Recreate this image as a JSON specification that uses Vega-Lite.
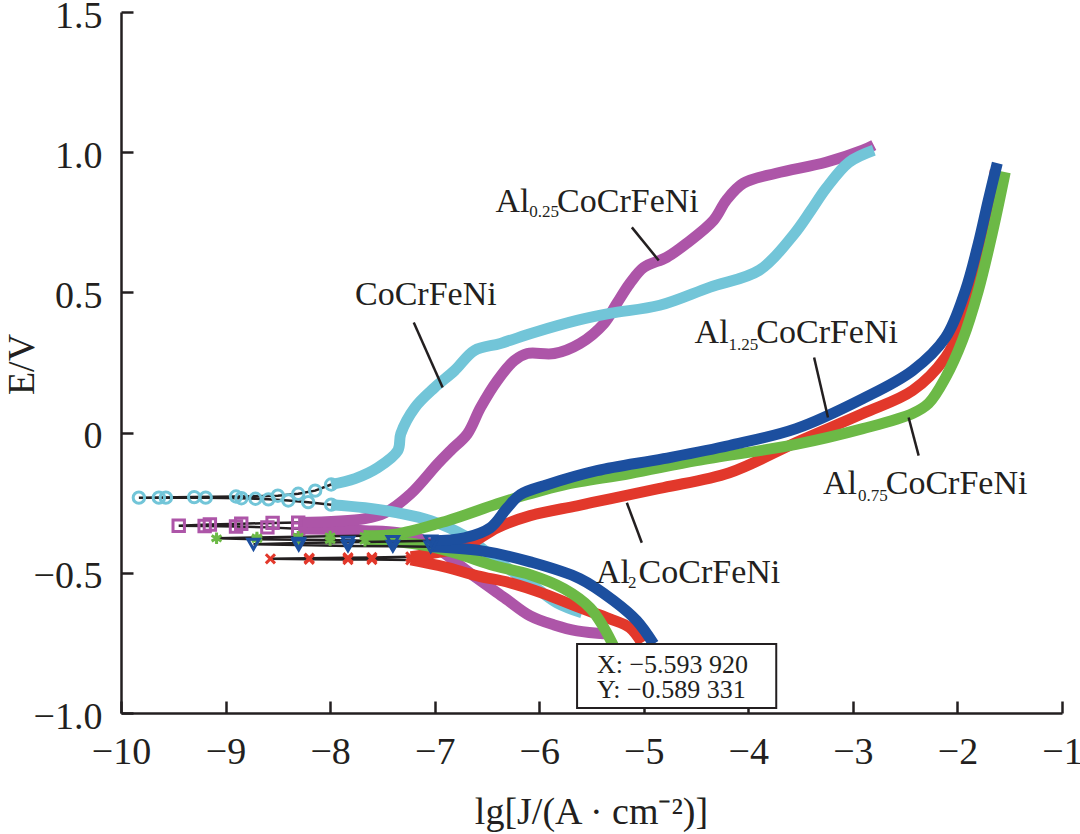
{
"$schema": "https://vega.github.io/schema/vega-lite/v6.json",
"width": 941, "height": 701,
"autosize": {"type": "none"},
"padding": {"left": 121, "top": 12, "right": 18, "bottom": 121},
"background": "white",
"config": {
 "view": {"stroke": null},
 "font": "Liberation Serif",
 "axis": {"domainColor": "#231f20", "domainWidth": 2.5, "tickColor": "#231f20", "tickWidth": 2.5, "tickSize": -12, "labelColor": "#231f20", "titleColor": "#231f20", "labelFont": "Liberation Serif", "titleFont": "Liberation Serif", "labelFontSize": 38, "titleFontSize": 38, "titleFontWeight": "normal", "grid": false, "zindex": 1, "labelFlush": false, "labelOverlap": false}
},
"datasets": {
 "curves": [
  {"s":"Al0.25CoCrFeNi","p":"c","i":1,"x":-5.352,"y":-0.718},
  {"s":"Al0.25CoCrFeNi","p":"c","i":2,"x":-5.638,"y":-0.707},
  {"s":"Al0.25CoCrFeNi","p":"c","i":3,"x":-5.857,"y":-0.686},
  {"s":"Al0.25CoCrFeNi","p":"c","i":4,"x":-6.086,"y":-0.654},
  {"s":"Al0.25CoCrFeNi","p":"c","i":5,"x":-6.333,"y":-0.589},
  {"s":"Al0.25CoCrFeNi","p":"c","i":6,"x":-6.59,"y":-0.521},
  {"s":"Al0.25CoCrFeNi","p":"c","i":7,"x":-6.752,"y":-0.475},
  {"s":"Al0.25CoCrFeNi","p":"c","i":8,"x":-6.971,"y":-0.414},
  {"s":"Al0.25CoCrFeNi","p":"c","i":9,"x":-7.162,"y":-0.375},
  {"s":"Al0.25CoCrFeNi","p":"c","i":10,"x":-7.352,"y":-0.357},
  {"s":"Al0.25CoCrFeNi","p":"c","i":11,"x":-7.667,"y":-0.35},
  {"s":"Al0.25CoCrFeNi","p":"c","i":12,"x":-8.0,"y":-0.345},
  {"s":"Al0.25CoCrFeNi","p":"c","i":13,"x":-8.305,"y":-0.343},
  {"s":"Al0.25CoCrFeNi","p":"sp","i":13,"x":-8.305,"y":-0.343},
  {"s":"Al0.25CoCrFeNi","p":"sp","i":14,"x":-8.6,"y":-0.338},
  {"s":"Al0.25CoCrFeNi","p":"sp","i":15,"x":-8.9,"y":-0.335},
  {"s":"Al0.25CoCrFeNi","p":"sp","i":16,"x":-9.2,"y":-0.333},
  {"s":"Al0.25CoCrFeNi","p":"sp","i":17,"x":-9.448,"y":-0.332},
  {"s":"Al0.25CoCrFeNi","p":"sp","i":18,"x":-9.15,"y":-0.328},
  {"s":"Al0.25CoCrFeNi","p":"sp","i":19,"x":-8.85,"y":-0.325},
  {"s":"Al0.25CoCrFeNi","p":"sp","i":20,"x":-8.55,"y":-0.322},
  {"s":"Al0.25CoCrFeNi","p":"sp","i":21,"x":-8.305,"y":-0.321},
  {"s":"Al0.25CoCrFeNi","p":"a","i":21,"x":-8.305,"y":-0.321},
  {"s":"Al0.25CoCrFeNi","p":"a","i":22,"x":-7.667,"y":-0.307},
  {"s":"Al0.25CoCrFeNi","p":"a","i":23,"x":-7.476,"y":-0.286},
  {"s":"Al0.25CoCrFeNi","p":"a","i":24,"x":-7.229,"y":-0.218},
  {"s":"Al0.25CoCrFeNi","p":"a","i":25,"x":-6.971,"y":-0.111},
  {"s":"Al0.25CoCrFeNi","p":"a","i":26,"x":-6.848,"y":-0.064},
  {"s":"Al0.25CoCrFeNi","p":"a","i":27,"x":-6.686,"y":-0.004},
  {"s":"Al0.25CoCrFeNi","p":"a","i":28,"x":-6.562,"y":0.089},
  {"s":"Al0.25CoCrFeNi","p":"a","i":29,"x":-6.4,"y":0.186},
  {"s":"Al0.25CoCrFeNi","p":"a","i":30,"x":-6.238,"y":0.257},
  {"s":"Al0.25CoCrFeNi","p":"a","i":31,"x":-6.114,"y":0.282},
  {"s":"Al0.25CoCrFeNi","p":"a","i":32,"x":-5.857,"y":0.282},
  {"s":"Al0.25CoCrFeNi","p":"a","i":33,"x":-5.61,"y":0.318},
  {"s":"Al0.25CoCrFeNi","p":"a","i":34,"x":-5.381,"y":0.389},
  {"s":"Al0.25CoCrFeNi","p":"a","i":35,"x":-5.257,"y":0.461},
  {"s":"Al0.25CoCrFeNi","p":"a","i":36,"x":-5.133,"y":0.532},
  {"s":"Al0.25CoCrFeNi","p":"a","i":37,"x":-5.0,"y":0.589},
  {"s":"Al0.25CoCrFeNi","p":"a","i":38,"x":-4.781,"y":0.625},
  {"s":"Al0.25CoCrFeNi","p":"a","i":39,"x":-4.59,"y":0.675},
  {"s":"Al0.25CoCrFeNi","p":"a","i":40,"x":-4.333,"y":0.757},
  {"s":"Al0.25CoCrFeNi","p":"a","i":41,"x":-4.21,"y":0.829},
  {"s":"Al0.25CoCrFeNi","p":"a","i":42,"x":-4.048,"y":0.889},
  {"s":"Al0.25CoCrFeNi","p":"a","i":43,"x":-3.733,"y":0.925},
  {"s":"Al0.25CoCrFeNi","p":"a","i":44,"x":-3.257,"y":0.964},
  {"s":"Al0.25CoCrFeNi","p":"a","i":45,"x":-2.905,"y":1.007},
  {"s":"Al0.25CoCrFeNi","p":"a","i":46,"x":-2.8,"y":1.025},

  {"s":"CoCrFeNi","p":"c","i":1,"x":-5.59,"y":-0.643},
  {"s":"CoCrFeNi","p":"c","i":2,"x":-5.829,"y":-0.607},
  {"s":"CoCrFeNi","p":"c","i":3,"x":-6.019,"y":-0.557},
  {"s":"CoCrFeNi","p":"c","i":4,"x":-6.4,"y":-0.457},
  {"s":"CoCrFeNi","p":"c","i":5,"x":-6.714,"y":-0.368},
  {"s":"CoCrFeNi","p":"c","i":6,"x":-7.038,"y":-0.314},
  {"s":"CoCrFeNi","p":"c","i":7,"x":-7.352,"y":-0.286},
  {"s":"CoCrFeNi","p":"c","i":8,"x":-7.667,"y":-0.268},
  {"s":"CoCrFeNi","p":"c","i":9,"x":-7.99,"y":-0.257},
  {"s":"CoCrFeNi","p":"sp","i":9,"x":-7.99,"y":-0.257},
  {"s":"CoCrFeNi","p":"sp","i":10,"x":-8.21,"y":-0.248},
  {"s":"CoCrFeNi","p":"sp","i":11,"x":-8.4,"y":-0.242},
  {"s":"CoCrFeNi","p":"sp","i":12,"x":-8.59,"y":-0.238},
  {"s":"CoCrFeNi","p":"sp","i":13,"x":-8.714,"y":-0.236},
  {"s":"CoCrFeNi","p":"sp","i":14,"x":-8.848,"y":-0.234},
  {"s":"CoCrFeNi","p":"sp","i":15,"x":-9.19,"y":-0.232},
  {"s":"CoCrFeNi","p":"sp","i":16,"x":-9.571,"y":-0.232},
  {"s":"CoCrFeNi","p":"sp","i":17,"x":-9.638,"y":-0.232},
  {"s":"CoCrFeNi","p":"sp","i":18,"x":-9.829,"y":-0.232},
  {"s":"CoCrFeNi","p":"sp","i":19,"x":-9.3,"y":-0.23},
  {"s":"CoCrFeNi","p":"sp","i":20,"x":-8.9,"y":-0.228},
  {"s":"CoCrFeNi","p":"sp","i":21,"x":-8.5,"y":-0.225},
  {"s":"CoCrFeNi","p":"sp","i":22,"x":-8.305,"y":-0.218},
  {"s":"CoCrFeNi","p":"sp","i":23,"x":-8.143,"y":-0.207},
  {"s":"CoCrFeNi","p":"sp","i":24,"x":-7.99,"y":-0.185},
  {"s":"CoCrFeNi","p":"a","i":24,"x":-7.99,"y":-0.185},
  {"s":"CoCrFeNi","p":"a","i":25,"x":-7.762,"y":-0.164},
  {"s":"CoCrFeNi","p":"a","i":26,"x":-7.543,"y":-0.125},
  {"s":"CoCrFeNi","p":"a","i":27,"x":-7.352,"y":-0.064},
  {"s":"CoCrFeNi","p":"a","i":28,"x":-7.324,"y":-0.004},
  {"s":"CoCrFeNi","p":"a","i":29,"x":-7.19,"y":0.089},
  {"s":"CoCrFeNi","p":"a","i":30,"x":-7.0,"y":0.161},
  {"s":"CoCrFeNi","p":"a","i":31,"x":-6.81,"y":0.221},
  {"s":"CoCrFeNi","p":"a","i":32,"x":-6.619,"y":0.293},
  {"s":"CoCrFeNi","p":"a","i":33,"x":-6.371,"y":0.318},
  {"s":"CoCrFeNi","p":"a","i":34,"x":-6.048,"y":0.357},
  {"s":"CoCrFeNi","p":"a","i":35,"x":-5.638,"y":0.4},
  {"s":"CoCrFeNi","p":"a","i":36,"x":-5.324,"y":0.425},
  {"s":"CoCrFeNi","p":"a","i":37,"x":-4.848,"y":0.454},
  {"s":"CoCrFeNi","p":"a","i":38,"x":-4.371,"y":0.518},
  {"s":"CoCrFeNi","p":"a","i":39,"x":-3.895,"y":0.579},
  {"s":"CoCrFeNi","p":"a","i":40,"x":-3.571,"y":0.704},
  {"s":"CoCrFeNi","p":"a","i":41,"x":-3.4,"y":0.793},
  {"s":"CoCrFeNi","p":"a","i":42,"x":-3.257,"y":0.871},
  {"s":"CoCrFeNi","p":"a","i":43,"x":-3.038,"y":0.964},
  {"s":"CoCrFeNi","p":"a","i":44,"x":-2.8,"y":1.007},

  {"s":"Al2CoCrFeNi","p":"c","i":1,"x":-5.019,"y":-0.75},
  {"s":"Al2CoCrFeNi","p":"c","i":2,"x":-5.133,"y":-0.696},
  {"s":"Al2CoCrFeNi","p":"c","i":3,"x":-5.324,"y":-0.664},
  {"s":"Al2CoCrFeNi","p":"c","i":4,"x":-5.638,"y":-0.621},
  {"s":"Al2CoCrFeNi","p":"c","i":5,"x":-5.952,"y":-0.575},
  {"s":"Al2CoCrFeNi","p":"c","i":6,"x":-6.276,"y":-0.536},
  {"s":"Al2CoCrFeNi","p":"c","i":7,"x":-6.59,"y":-0.511},
  {"s":"Al2CoCrFeNi","p":"c","i":8,"x":-6.905,"y":-0.479},
  {"s":"Al2CoCrFeNi","p":"c","i":9,"x":-7.229,"y":-0.454},
  {"s":"Al2CoCrFeNi","p":"sp","i":9,"x":-7.229,"y":-0.454},
  {"s":"Al2CoCrFeNi","p":"sp","i":10,"x":-7.6,"y":-0.453},
  {"s":"Al2CoCrFeNi","p":"sp","i":11,"x":-7.829,"y":-0.453},
  {"s":"Al2CoCrFeNi","p":"sp","i":12,"x":-8.2,"y":-0.452},
  {"s":"Al2CoCrFeNi","p":"sp","i":13,"x":-8.571,"y":-0.45},
  {"s":"Al2CoCrFeNi","p":"sp","i":14,"x":-8.2,"y":-0.448},
  {"s":"Al2CoCrFeNi","p":"sp","i":15,"x":-7.829,"y":-0.446},
  {"s":"Al2CoCrFeNi","p":"sp","i":16,"x":-7.6,"y":-0.445},
  {"s":"Al2CoCrFeNi","p":"sp","i":17,"x":-7.229,"y":-0.443},
  {"s":"Al2CoCrFeNi","p":"a","i":17,"x":-7.229,"y":-0.443},
  {"s":"Al2CoCrFeNi","p":"a","i":18,"x":-7.038,"y":-0.432},
  {"s":"Al2CoCrFeNi","p":"a","i":19,"x":-6.714,"y":-0.407},
  {"s":"Al2CoCrFeNi","p":"a","i":20,"x":-6.4,"y":-0.339},
  {"s":"Al2CoCrFeNi","p":"a","i":21,"x":-6.086,"y":-0.296},
  {"s":"Al2CoCrFeNi","p":"a","i":22,"x":-5.638,"y":-0.261},
  {"s":"Al2CoCrFeNi","p":"a","i":23,"x":-5.324,"y":-0.236},
  {"s":"Al2CoCrFeNi","p":"a","i":24,"x":-4.81,"y":-0.196},
  {"s":"Al2CoCrFeNi","p":"a","i":25,"x":-4.181,"y":-0.143},
  {"s":"Al2CoCrFeNi","p":"a","i":26,"x":-3.543,"y":-0.035},
  {"s":"Al2CoCrFeNi","p":"a","i":27,"x":-2.905,"y":0.068},
  {"s":"Al2CoCrFeNi","p":"a","i":28,"x":-2.429,"y":0.15},
  {"s":"Al2CoCrFeNi","p":"a","i":29,"x":-2.114,"y":0.268},
  {"s":"Al2CoCrFeNi","p":"a","i":30,"x":-1.952,"y":0.389},
  {"s":"Al2CoCrFeNi","p":"a","i":31,"x":-1.8,"y":0.568},
  {"s":"Al2CoCrFeNi","p":"a","i":32,"x":-1.705,"y":0.768},
  {"s":"Al2CoCrFeNi","p":"a","i":33,"x":-1.638,"y":0.936},

  {"s":"Al0.75CoCrFeNi","p":"c","i":1,"x":-5.276,"y":-0.771},
  {"s":"Al0.75CoCrFeNi","p":"c","i":2,"x":-5.381,"y":-0.696},
  {"s":"Al0.75CoCrFeNi","p":"c","i":3,"x":-5.514,"y":-0.625},
  {"s":"Al0.75CoCrFeNi","p":"c","i":4,"x":-5.762,"y":-0.557},
  {"s":"Al0.75CoCrFeNi","p":"c","i":5,"x":-6.086,"y":-0.507},
  {"s":"Al0.75CoCrFeNi","p":"c","i":6,"x":-6.429,"y":-0.475},
  {"s":"Al0.75CoCrFeNi","p":"c","i":7,"x":-6.781,"y":-0.432},
  {"s":"Al0.75CoCrFeNi","p":"c","i":8,"x":-7.067,"y":-0.404},
  {"s":"Al0.75CoCrFeNi","p":"c","i":9,"x":-7.352,"y":-0.389},
  {"s":"Al0.75CoCrFeNi","p":"c","i":10,"x":-7.667,"y":-0.386},
  {"s":"Al0.75CoCrFeNi","p":"sp","i":10,"x":-7.667,"y":-0.386},
  {"s":"Al0.75CoCrFeNi","p":"sp","i":11,"x":-8.0,"y":-0.383},
  {"s":"Al0.75CoCrFeNi","p":"sp","i":12,"x":-8.305,"y":-0.382},
  {"s":"Al0.75CoCrFeNi","p":"sp","i":13,"x":-8.7,"y":-0.38},
  {"s":"Al0.75CoCrFeNi","p":"sp","i":14,"x":-9.086,"y":-0.377},
  {"s":"Al0.75CoCrFeNi","p":"sp","i":15,"x":-8.7,"y":-0.374},
  {"s":"Al0.75CoCrFeNi","p":"sp","i":16,"x":-8.305,"y":-0.371},
  {"s":"Al0.75CoCrFeNi","p":"sp","i":17,"x":-8.0,"y":-0.37},
  {"s":"Al0.75CoCrFeNi","p":"sp","i":18,"x":-7.667,"y":-0.368},
  {"s":"Al0.75CoCrFeNi","p":"a","i":18,"x":-7.667,"y":-0.368},
  {"s":"Al0.75CoCrFeNi","p":"a","i":19,"x":-7.352,"y":-0.361},
  {"s":"Al0.75CoCrFeNi","p":"a","i":20,"x":-6.876,"y":-0.314},
  {"s":"Al0.75CoCrFeNi","p":"a","i":21,"x":-6.4,"y":-0.254},
  {"s":"Al0.75CoCrFeNi","p":"a","i":22,"x":-6.114,"y":-0.221},
  {"s":"Al0.75CoCrFeNi","p":"a","i":23,"x":-5.762,"y":-0.186},
  {"s":"Al0.75CoCrFeNi","p":"a","i":24,"x":-5.133,"y":-0.146},
  {"s":"Al0.75CoCrFeNi","p":"a","i":25,"x":-4.495,"y":-0.1},
  {"s":"Al0.75CoCrFeNi","p":"a","i":26,"x":-3.543,"y":-0.042},
  {"s":"Al0.75CoCrFeNi","p":"a","i":27,"x":-2.905,"y":0.014},
  {"s":"Al0.75CoCrFeNi","p":"a","i":28,"x":-2.429,"y":0.068},
  {"s":"Al0.75CoCrFeNi","p":"a","i":29,"x":-2.276,"y":0.104},
  {"s":"Al0.75CoCrFeNi","p":"a","i":30,"x":-2.114,"y":0.196},
  {"s":"Al0.75CoCrFeNi","p":"a","i":31,"x":-1.952,"y":0.329},
  {"s":"Al0.75CoCrFeNi","p":"a","i":32,"x":-1.8,"y":0.507},
  {"s":"Al0.75CoCrFeNi","p":"a","i":33,"x":-1.667,"y":0.711},
  {"s":"Al0.75CoCrFeNi","p":"a","i":34,"x":-1.543,"y":0.929},

  {"s":"Al1.25CoCrFeNi","p":"c","i":1,"x":-4.905,"y":-0.754},
  {"s":"Al1.25CoCrFeNi","p":"c","i":2,"x":-5.067,"y":-0.671},
  {"s":"Al1.25CoCrFeNi","p":"c","i":3,"x":-5.286,"y":-0.6},
  {"s":"Al1.25CoCrFeNi","p":"c","i":4,"x":-5.61,"y":-0.521},
  {"s":"Al1.25CoCrFeNi","p":"c","i":5,"x":-6.086,"y":-0.461},
  {"s":"Al1.25CoCrFeNi","p":"c","i":6,"x":-6.562,"y":-0.421},
  {"s":"Al1.25CoCrFeNi","p":"c","i":7,"x":-7.038,"y":-0.407},
  {"s":"Al1.25CoCrFeNi","p":"sp","i":7,"x":-7.038,"y":-0.407},
  {"s":"Al1.25CoCrFeNi","p":"sp","i":8,"x":-7.4,"y":-0.405},
  {"s":"Al1.25CoCrFeNi","p":"sp","i":9,"x":-7.829,"y":-0.404},
  {"s":"Al1.25CoCrFeNi","p":"sp","i":10,"x":-8.3,"y":-0.401},
  {"s":"Al1.25CoCrFeNi","p":"sp","i":11,"x":-8.733,"y":-0.398},
  {"s":"Al1.25CoCrFeNi","p":"sp","i":12,"x":-8.3,"y":-0.394},
  {"s":"Al1.25CoCrFeNi","p":"sp","i":13,"x":-7.829,"y":-0.391},
  {"s":"Al1.25CoCrFeNi","p":"sp","i":14,"x":-7.4,"y":-0.388},
  {"s":"Al1.25CoCrFeNi","p":"sp","i":15,"x":-7.038,"y":-0.386},
  {"s":"Al1.25CoCrFeNi","p":"a","i":15,"x":-7.038,"y":-0.386},
  {"s":"Al1.25CoCrFeNi","p":"a","i":16,"x":-6.714,"y":-0.375},
  {"s":"Al1.25CoCrFeNi","p":"a","i":17,"x":-6.467,"y":-0.339},
  {"s":"Al1.25CoCrFeNi","p":"a","i":18,"x":-6.305,"y":-0.268},
  {"s":"Al1.25CoCrFeNi","p":"a","i":19,"x":-6.181,"y":-0.221},
  {"s":"Al1.25CoCrFeNi","p":"a","i":20,"x":-5.924,"y":-0.186},
  {"s":"Al1.25CoCrFeNi","p":"a","i":21,"x":-5.448,"y":-0.136},
  {"s":"Al1.25CoCrFeNi","p":"a","i":22,"x":-4.81,"y":-0.093},
  {"s":"Al1.25CoCrFeNi","p":"a","i":23,"x":-4.181,"y":-0.046},
  {"s":"Al1.25CoCrFeNi","p":"a","i":24,"x":-3.543,"y":0.014},
  {"s":"Al1.25CoCrFeNi","p":"a","i":25,"x":-2.905,"y":0.121},
  {"s":"Al1.25CoCrFeNi","p":"a","i":26,"x":-2.429,"y":0.221},
  {"s":"Al1.25CoCrFeNi","p":"a","i":27,"x":-2.114,"y":0.339},
  {"s":"Al1.25CoCrFeNi","p":"a","i":28,"x":-1.924,"y":0.507},
  {"s":"Al1.25CoCrFeNi","p":"a","i":29,"x":-1.8,"y":0.675},
  {"s":"Al1.25CoCrFeNi","p":"a","i":30,"x":-1.705,"y":0.829},
  {"s":"Al1.25CoCrFeNi","p":"a","i":31,"x":-1.619,"y":0.961}
 ],
 "labels": [
  {"k":"main","t":"CoCrFeNi","x":-7.762,"y":0.454},
  {"k":"main","t":"Al","x":-6.419,"y":0.786},
  {"k":"sub","t":"0.25","x":-6.095,"y":0.768},
  {"k":"main","t":"CoCrFeNi","x":-5.829,"y":0.786},
  {"k":"main","t":"Al","x":-4.514,"y":0.318},
  {"k":"sub","t":"1.25","x":-4.19,"y":0.293},
  {"k":"main","t":"CoCrFeNi","x":-3.924,"y":0.318},
  {"k":"main","t":"Al","x":-3.286,"y":-0.218},
  {"k":"sub","t":"0.75","x":-2.952,"y":-0.243},
  {"k":"main","t":"CoCrFeNi","x":-2.686,"y":-0.218},
  {"k":"main","t":"Al","x":-5.457,"y":-0.536},
  {"k":"sub","t":"2","x":-5.15,"y":-0.554},
  {"k":"main","t":"CoCrFeNi","x":-5.05,"y":-0.536}
 ],
 "leaders": [
  {"x":-7.2,"y":0.393,"x2":-6.924,"y2":0.161},
  {"x":-5.114,"y":0.732,"x2":-4.857,"y2":0.614},
  {"x":-3.371,"y":0.268,"x2":-3.238,"y2":0.054},
  {"x":-2.467,"y":0.054,"x2":-2.371,"y2":-0.082},
  {"x":-5.162,"y":-0.25,"x2":-5.019,"y2":-0.393}
 ],
 "tipbox": [{"x":-5.638,"y":-0.754,"x2":-3.733,"y2":-0.982}],
 "tiptext": [
  {"t":"X: −5.593 920","x":-5.448,"y":-0.857},
  {"t":"Y: −0.589 331","x":-5.448,"y":-0.946}
 ]
},
"encoding": {
 "x": {"field": "x", "type": "quantitative",
  "scale": {"domain": [-10, -1], "nice": false, "zero": false},
  "axis": {"values": [-10,-9,-8,-7,-6,-5,-4,-3,-2,-1], "format": "d", "labelPadding": 32, "title": "lg[J/(A · cm⁻²)]", "titleX": 470, "titleY": 110, "titleBaseline": "alphabetic", "titleAlign": "center"}},
 "y": {"field": "y", "type": "quantitative",
  "scale": {"domain": [-1, 1.5], "nice": false, "zero": false},
  "axis": {"values": [-1,-0.5,0,0.5,1,1.5], "labelExpr": "datum.value === 0 ? '0' : format(datum.value, '.1f')", "labelPadding": 31, "labelOffset": 4, "title": "E/V", "titleX": -88, "titleY": 352, "titleAngle": 270, "titleBaseline": "alphabetic", "titleAlign": "center"}}
},
"layer": [
 {"data": {"name": "curves"},
  "transform": [{"filter": "datum.p !== 'sp'"}],
  "mark": {"type": "line", "strokeWidth": 11, "strokeJoin": "round", "strokeCap": "butt", "interpolate": "catmull-rom"},
  "encoding": {
   "color": {"field": "s", "type": "nominal", "legend": null,
    "scale": {"domain": ["Al0.25CoCrFeNi","CoCrFeNi","Al2CoCrFeNi","Al0.75CoCrFeNi","Al1.25CoCrFeNi"], "range": ["#ad55a8","#72c5d8","#e2382b","#6cb946","#1c4f9f"]}},
   "detail": {"field": "p"},
   "order": {"field": "i", "type": "quantitative"}
  }},
 {"data": {"name": "curves"},
  "transform": [{"filter": "datum.p === 'sp'"}],
  "mark": {"type": "line", "strokeWidth": 2.5, "color": "#231f20"},
  "encoding": {
   "detail": {"field": "s"},
   "order": {"field": "i", "type": "quantitative"}
  }},
 {"data": {"name": "curves"},
  "transform": [{"filter": "datum.p === 'sp'"}],
  "mark": {"type": "point", "filled": false, "strokeWidth": 3, "size": 130, "opacity": 1},
  "encoding": {
   "color": {"field": "s", "type": "nominal", "legend": null,
    "scale": {"domain": ["Al0.25CoCrFeNi","CoCrFeNi","Al2CoCrFeNi","Al0.75CoCrFeNi","Al1.25CoCrFeNi"], "range": ["#ad55a8","#72c5d8","#e2382b","#6cb946","#1c4f9f"]}},
   "shape": {"field": "s", "type": "nominal", "legend": null,
    "scale": {"domain": ["Al0.25CoCrFeNi","CoCrFeNi","Al2CoCrFeNi","Al0.75CoCrFeNi","Al1.25CoCrFeNi"], "range": ["square","circle","M-0.8,-0.8L0.8,0.8M-0.8,0.8L0.8,-0.8","M0,-1L0,1M-0.87,-0.5L0.87,0.5M-0.87,0.5L0.87,-0.5","triangle-down"]}}
  }},
 {"data": {"name": "leaders"},
  "mark": {"type": "rule", "strokeWidth": 2.5, "color": "#231f20"},
  "encoding": {"x2": {"field": "x2"}, "y2": {"field": "y2"}}},
 {"data": {"name": "labels"},
  "transform": [{"filter": "datum.k === 'main'"}],
  "mark": {"type": "text", "align": "left", "baseline": "alphabetic", "fontSize": 34, "font": "Liberation Serif", "color": "#231f20"},
  "encoding": {"text": {"field": "t"}}},
 {"data": {"name": "labels"},
  "transform": [{"filter": "datum.k === 'sub'"}],
  "mark": {"type": "text", "align": "left", "baseline": "alphabetic", "fontSize": 17, "font": "Liberation Serif", "color": "#231f20"},
  "encoding": {"text": {"field": "t"}}},
 {"data": {"name": "tipbox"},
  "mark": {"type": "rect", "fill": "white", "stroke": "#231f20", "strokeWidth": 2},
  "encoding": {"x2": {"field": "x2"}, "y2": {"field": "y2"}}},
 {"data": {"name": "tiptext"},
  "mark": {"type": "text", "align": "left", "baseline": "alphabetic", "fontSize": 26, "font": "Liberation Serif", "color": "#231f20"},
  "encoding": {"text": {"field": "t"}}}
]
}
